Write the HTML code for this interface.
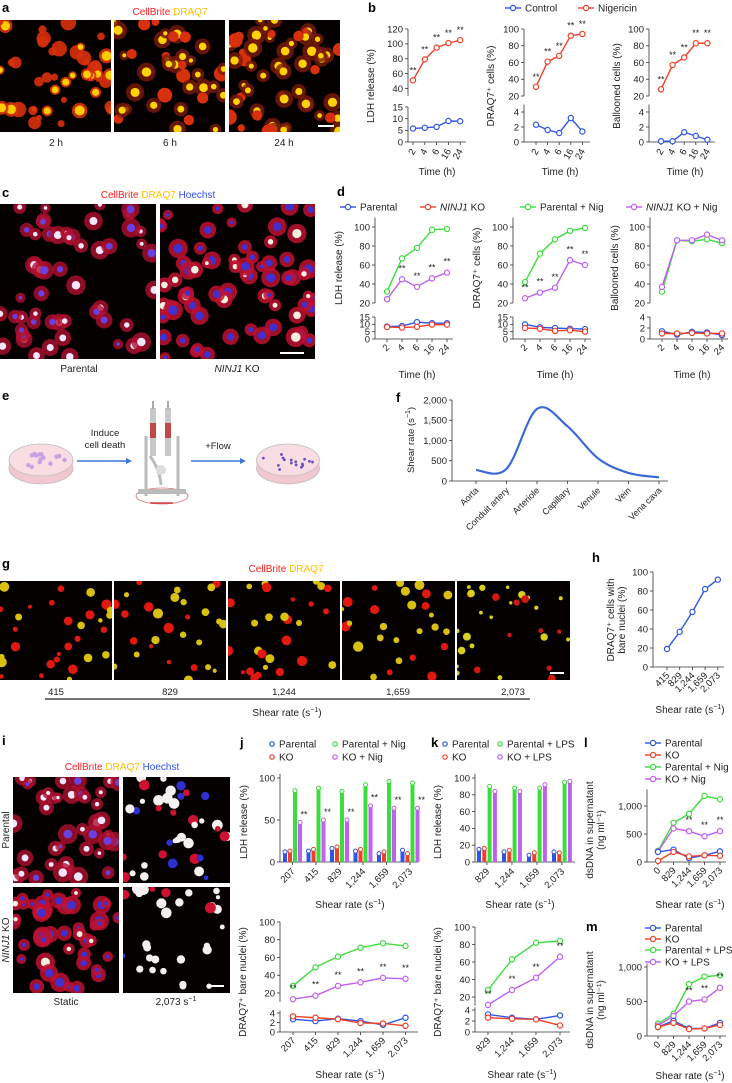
<!DOCTYPE html>
<html><head><meta charset="utf-8"><style>
html,body{margin:0;padding:0;background:#fff;}
svg{display:block;font-family:"Liberation Sans",Arial,sans-serif;}
</style></head><body>
<svg id="fig" width="732" height="1083" viewBox="0 0 732 1083" xmlns="http://www.w3.org/2000/svg"></svg>
<script>
// ---------------- DATA ----------------
const timeCats = ['2','4','6','16','24'];
const b1Nig = [51,79,95,101,105];
const b1Ctrl = [5.8,6.1,6.5,9.0,8.9];
const b2Nig = [31,61,68,92,94];
const b2Ctrl = [2.3,1.6,1.2,3.2,1.4];
const b3Nig = [28,57,66,83,83];
const b3Ctrl = [0.1,0.1,1.3,0.8,0.3];
const d1Par = [8.5,8.8,11.5,10.8,10.8];
const d1KO = [8.2,7.8,8.3,9.8,9.8];
const d1ParNig = [32,67,78,97,98];
const d1KONig = [24,45,37,46,52];
const d2Par = [10,8,7.5,7,6.8];
const d2KO = [7.5,7,5.5,6,5];
const d2ParNig = [42,72,87,96,99];
const d2KONig = [25,31,36,65,60];
const d3Par = [1.4,0.8,1.3,1.2,0.7];
const d3KO = [1.0,1.0,1.1,1.0,1.0];
const d3ParNig = [32,86,85,87,83];
const d3KONig = [37,86,86,92,86];
const fCats = ['Aorta','Conduit artery','Arteriole','Capillary','Venule','Vein','Vena cava'];
const fVals = [270,300,1780,1350,560,200,90];
const hCats = ['415','829','1,244','1,659','2,073'];
const hVals = [19,37,58,82,92];
const jCats = ['207','415','829','1,244','1,659','2,073'];
const jTopPar = [12,13,16,13,10,14];
const jTopKO = [13,15,18,15,12,10];
const jTopParNig = [85,88,84,92,96,94];
const jTopKONig = [47,50,50,67,64,64];
const kCats = ['829','1,244','1,659','2,073'];
const kTopPar = [15,12,8,12];
const kTopKO = [16,14,11,11];
const kTopParLPS = [90,88,88,95];
const kTopKOLPS = [84,84,92,96];
const jBotPar = [2.7,2.3,2.8,2.3,1.5,3.0];
const jBotKO = [3.3,3.0,2.7,1.9,1.8,1.3];
const jBotParNig = [28,49,61,71,76,73];
const jBotKONig = [13,17,28,32,37,36];
const kBotPar = [3.2,2.6,2.3,3.0];
const kBotKO = [2.6,2.4,2.3,1.2];
const kBotParLPS = [28,63,82,84];
const kBotKOLPS = [11,28,42,66];
const lmCats = ['0','829','1,244','1,659','2,073'];
const lPar = [180,220,70,120,190];
const lKO = [20,180,100,120,110];
const lParNig = [200,700,860,1180,1120];
const lKONig = [190,600,550,460,550];
const mPar = [130,220,110,110,190];
const mKO = [130,190,100,110,160];
const mParLPS = [180,320,750,860,880];
const mKOLPS = [150,290,500,530,700];

const BLUE='#2f55e8', RED='#f0402a', GREEN='#3ddc3d', PURPLE='#c060f0';
const NS='http://www.w3.org/2000/svg';
const svg=document.getElementById('fig');
function el(tag,attrs,parent,txt){const e=document.createElementNS(NS,tag);for(const k in attrs)e.setAttribute(k,attrs[k]);if(txt!==undefined)e.textContent=txt;(parent||svg).appendChild(e);return e;}
function txt(x,y,s,o,parent){o=o||{};const t=el('text',{x:x,y:y,'font-size':o.fs||9.5,fill:o.fill||'#222','text-anchor':o.anchor||'start','font-weight':o.fw||'normal'},parent,s);if(o.rot!==undefined)t.setAttribute('transform','rotate('+o.rot+' '+x+' '+y+')');if(o.italic)t.setAttribute('font-style','italic');return t;}
function label(x,y,s){const t=txt(x,y,s,{fs:13,fw:'bold',fill:'#000'});}

// ---------- microscopy ----------
let seed=1;
function rnd(){seed=(seed*16807)%2147483647;return seed/2147483647;}
let clipId=0;
function micro(x,y,w,h,type,n,s,name){
  seed=s;
  const g=el('g',{});
  
  
  clipId++;
  const cp=el('clipPath',{id:'cp'+clipId},g);el('rect',{x:x,y:y,width:w,height:h},cp);
  el('rect',{x:x,y:y,width:w,height:h,fill:'#050000'},g);
  const inner=el('g',{'clip-path':'url(#cp'+clipId+')'},g);
  for(let i=0;i<n;i++){
    const cx=x+rnd()*w, cy=y+rnd()*h, r=3+rnd()*5, p=rnd();
    if(type==='a'){
      el('circle',{cx:cx,cy:cy,r:r,fill:'#d8300c',opacity:0.9},inner);
      if(p<0.35)el('circle',{cx:cx,cy:cy,r:r*0.65,fill:'#ffcc00'},inner);
    }else if(type==='a2'){
      if(p<0.6){el('circle',{cx:cx,cy:cy,r:r+1.5,fill:'#7a1a08',opacity:0.8},inner);el('circle',{cx:cx,cy:cy,r:r*0.6,fill:'#ffd200'},inner);}
      else el('circle',{cx:cx,cy:cy,r:r,fill:'#d8300c'},inner);
    }else if(type==='c'){
      el('circle',{cx:cx,cy:cy,r:r+2,fill:'#b01030',opacity:0.8},inner);
      el('circle',{cx:cx,cy:cy,r:r*0.55,fill:p<0.5?'#f4e6ff':'#6a40e0'},inner);
    }else if(type==='c2'){
      el('circle',{cx:cx,cy:cy,r:r+2,fill:'#c01030',opacity:0.85},inner);
      el('circle',{cx:cx,cy:cy,r:r*0.6,fill:p<0.25?'#f4f0e0':'#4030d0'},inner);
    }else if(type==='g'){
      el('circle',{cx:cx,cy:cy,r:r*0.65,fill:p<0.55?'#e01810':'#d8c010'},inner);
    }else if(type==='g2'){
      el('circle',{cx:cx,cy:cy,r:r*0.5,fill:p<0.2?'#d01810':'#d8d020'},inner);
    }else if(type==='i2'){
      el('circle',{cx:cx,cy:cy,r:r*0.7,fill:p<0.6?'#f4f0f0':(p<0.8?'#d01030':'#3030d0')},inner);
    }
  }
  return g;
}

// ---------- panel a ----------
label(2,12,'a');
function stainTitle(cx,y,parts){const t=el('text',{x:cx,y:y,'font-size':10,'text-anchor':'middle'});parts.forEach(p=>{el('tspan',{fill:p[1]},t,p[0]);});}
stainTitle(170,15,[['CellBrite ','#ff2020'],['DRAQ7','#ffc000']]);
micro(0,20,111,112,'a',45,11,'image-2h');
micro(114,20,111,112,'a2',40,23,'image-6h');
micro(229,20,111,112,'a2',55,37,'image-24h');
el('rect',{x:318,y:125,width:16,height:2,fill:'#fff'});
[['2 h',56],['6 h',170],['24 h',284]].forEach(p=>{const t=txt(p[1],146,p[0],{fs:10,anchor:'middle'});});

// ---------- panel c ----------
label(2,197,'c');
stainTitle(158,198,[['CellBrite ','#ff2020'],['DRAQ7 ','#ffc000'],['Hoechst','#3050ff']]);
micro(0,204,156,155,'c',55,51,'image-parental');
micro(160,204,155,155,'c2',70,77,'image-ninj1-ko');
el('rect',{x:280,y:352,width:24,height:2,fill:'#fff'});
txt(79,372,'Parental',{fs:10,anchor:'middle'});
{const t=el('text',{x:237,y:372,'font-size':10,'text-anchor':'middle',fill:'#222'});el('tspan',{'font-style':'italic'},t,'NINJ1');el('tspan',{},t,' KO');}

// ---------- generic line chart ----------
function mkY(seg){return v=>seg.yLo+(v-seg.lo)*(seg.yHi-seg.yLo)/(seg.hi-seg.lo);}
function lineChart(o){
  const g=el('g',{});
  
  
  const ys=o.segs.map(mkY);
  o.segs.forEach((s,i)=>{
    const y=ys[i];
    const ax=el('line',{x1:o.ax,x2:o.ax,y1:y(s.axLo),y2:y(s.axHi),stroke:'#333','stroke-width':0.8},g);
    
    
    s.ticks.forEach(t=>{el('line',{x1:o.ax-3,x2:o.ax,y1:y(t),y2:y(t),stroke:'#333','stroke-width':0.8},g);
      const tl=txt(o.ax-5,y(t)+3.3,s.fmt?s.fmt(t):String(t),{anchor:'end',fs:o.tfs||9.5},g);
      
      });
  });
  const last=o.segs.length-1, yb=ys[last](o.segs[last].axLo);
  el('line',{x1:o.ax,x2:o.xEnd,y1:yb,y2:yb,stroke:'#333','stroke-width':0.8},g);
  o.xs.forEach((x,i)=>{el('line',{x1:x,x2:x,y1:yb,y2:yb+3,stroke:'#333','stroke-width':0.8},g);
    const tl=txt(x+3,yb+9,o.cats[i],{anchor:'end',fs:o.xfs||9.5,rot:o.rot||-45},g);
    
    });
  (o.series||[]).forEach(sr=>{
    const y=ys[sr.seg||0];
    const pts=sr.vals.map((v,i)=>[o.xs[i],y(v)]);
    const pl=el('polyline',{points:pts.map(p=>p.join(',')).join(' '),fill:'none',stroke:sr.color,'stroke-width':1.4},g);
    
    
    pts.forEach(p=>{const c=el('circle',{cx:p[0],cy:p[1],r:2.6,fill:'#fff',stroke:sr.color,'stroke-width':1.2},g);
      
      });
    (sr.stars||[]).forEach(i=>{const s=txt(pts[i][0]+(sr.starDx||0),pts[i][1]-(sr.starDy||6),'**',{anchor:'middle',fs:9},g);
      
      });
  });
  if(o.ytitle){o.ytitle.forEach((t,i)=>{const yt=txt(o.ytx+i*11,o.yty,t,{anchor:'middle',fs:10,rot:-90},g);
    
    });}
  if(o.xtitle){const xt=el('text',{x:o.xtx,y:o.xty,'font-size':10,'text-anchor':'middle',fill:'#222'},g);
    el('tspan',{},xt,o.xtitle);if(o.xsup){el('tspan',{'font-size':7,dy:-4},xt,o.xsup);el('tspan',{dy:4},xt,')');}
    
    }
  return {g:g,ys:ys};
}
function catX(x0,step,n){const a=[];for(let i=0;i<n;i++)a.push(x0+step*i);return a;}
function legendItem(x,y,color,text,italicPart){
  const g=el('g',{});
  
  
  el('line',{x1:x-8,x2:x+8,y1:y,y2:y,stroke:color,'stroke-width':1.4},g);
  el('circle',{cx:x,cy:y,r:2.6,fill:'#fff',stroke:color,'stroke-width':1.2},g);
  const t=el('text',{x:x+12,y:y+3.5,'font-size':10,fill:'#222'},g);
  if(italicPart){el('tspan',{'font-style':'italic'},t,italicPart);}
  el('tspan',{},t,text);
}
function dotLegend(x,y,color,text){
  const g=el('g',{});
  
  
  el('circle',{cx:x,cy:y,r:2.2,fill:'#fff',stroke:color,'stroke-width':1.2},g);
  txt(x+7,y+3.5,text,{fs:10},g);
}

// ---------- panel b ----------
label(368,12,'b');
legendItem(513,8,BLUE,'Control');
legendItem(586,8,RED,'Nigericin');
lineChart({name:'chart-b-ldh',ax:408,xs:catX(413,11.8,5),cats:timeCats,xEnd:466,rot:-60,
  segs:[{lo:40,hi:120,yLo:88.5,yHi:29,axLo:30,axHi:120,ticks:[40,60,80,100,120]},
        {lo:0,hi:15,yLo:142,yHi:107,axLo:0,axHi:15,ticks:[0,5,10,15]}],
  series:[{name:'nigericin',vals:b1Nig,color:RED,seg:0,stars:[0,1,2,3,4],starDy:7},
          {name:'control',vals:b1Ctrl,color:BLUE,seg:1}],
  ytitle:['LDH release (%)'],ytx:374,yty:86,xtitle:'Time (h)',xtx:437,xty:175});
lineChart({name:'chart-b-draq7',ax:524,xs:catX(536,11.6,5),cats:timeCats,xEnd:590,rot:-60,
  segs:[{lo:20,hi:100,yLo:96,yHi:29,axLo:20,axHi:100,ticks:[20,40,60,80,100]},
        {lo:0,hi:4,yLo:142,yHi:112,axLo:0,axHi:5,ticks:[0,2,4]}],
  series:[{name:'nigericin',vals:b2Nig,color:RED,seg:0,stars:[0,1,2,3,4],starDy:7},
          {name:'control',vals:b2Ctrl,color:BLUE,seg:1}],
  ytitle:['DRAQ7\u207A cells (%)'],ytx:494,yty:86,xtitle:'Time (h)',xtx:560,xty:175});
lineChart({name:'chart-b-ballooned',ax:649,xs:catX(661,11.6,5),cats:timeCats,xEnd:715,rot:-60,
  segs:[{lo:20,hi:100,yLo:96,yHi:29,axLo:20,axHi:100,ticks:[20,40,60,80,100]},
        {lo:0,hi:4,yLo:142,yHi:112,axLo:0,axHi:5,ticks:[0,2,4]}],
  series:[{name:'nigericin',vals:b3Nig,color:RED,seg:0,stars:[0,1,2,3,4],starDy:7},
          {name:'control',vals:b3Ctrl,color:BLUE,seg:1}],
  ytitle:['Ballooned cells (%)'],ytx:620,yty:86,xtitle:'Time (h)',xtx:685,xty:175});

// ---------- panel d ----------
label(337,196,'d');
legendItem(348,207,BLUE,'Parental');
legendItem(428,207,RED,' KO','NINJ1');
legendItem(528,207,GREEN,'Parental + Nig');
legendItem(634,207,PURPLE,' KO + Nig','NINJ1');
const dSegs=(lowHi,lowTicks)=>[{lo:20,hi:100,yLo:303,yHi:227,axLo:20,axHi:110,ticks:[20,40,60,80,100]},
  {lo:0,hi:lowHi,yLo:339,yHi:317,axLo:0,axHi:lowHi,ticks:lowTicks}];
lineChart({name:'chart-d-ldh',ax:375,xs:catX(387,15,5),cats:timeCats,xEnd:453,segs:dSegs(15,[0,5,10,15]),tfs:9.5,
  series:[{name:'parental-nig',vals:d1ParNig,color:GREEN,seg:0},
          {name:'ko-nig',vals:d1KONig,color:PURPLE,seg:0,stars:[1,2,3,4],starDy:8},
          {name:'parental',vals:d1Par,color:BLUE,seg:1},{name:'ko',vals:d1KO,color:RED,seg:1}],
  ytitle:['LDH release (%)'],ytx:342,yty:268,xtitle:'Time (h)',xtx:417,xty:378});
lineChart({name:'chart-d-draq7',ax:513,xs:catX(525,15,5),cats:timeCats,xEnd:591,segs:dSegs(15,[0,5,10,15]),
  series:[{name:'parental-nig',vals:d2ParNig,color:GREEN,seg:0},
          {name:'ko-nig',vals:d2KONig,color:PURPLE,seg:0,stars:[0,1,2,3,4],starDy:8},
          {name:'parental',vals:d2Par,color:BLUE,seg:1},{name:'ko',vals:d2KO,color:RED,seg:1}],
  ytitle:['DRAQ7\u207A cells (%)'],ytx:480,yty:268,xtitle:'Time (h)',xtx:555,xty:378});
lineChart({name:'chart-d-ballooned',ax:650,xs:catX(662,15,5),cats:timeCats,xEnd:728,segs:dSegs(4,[0,2,4]),
  series:[{name:'parental-nig',vals:d3ParNig,color:GREEN,seg:0},
          {name:'ko-nig',vals:d3KONig,color:PURPLE,seg:0},
          {name:'parental',vals:d3Par,color:BLUE,seg:1},{name:'ko',vals:d3KO,color:RED,seg:1}],
  ytitle:['Ballooned cells (%)'],ytx:618,yty:268,xtitle:'Time (h)',xtx:692,xty:378});

// ---------- panel e ----------
label(2,400,'e');
function dish(x,y,w,dots,s){const g=el('g',{});
  
  
  el('ellipse',{cx:x,cy:y+8,rx:w/2,ry:16,fill:'#f2c8d0',stroke:'#bbb','stroke-width':0.8},g);
  el('rect',{x:x-w/2,y:y,width:w,height:8,fill:'#f2c8d0'},g);
  el('ellipse',{cx:x,cy:y,rx:w/2,ry:16,fill:'#f8dde3',stroke:'#bbb','stroke-width':0.8},g);
  seed=s;for(let i=0;i<dots;i++){const a=rnd()*6.28,r=rnd()*0.8;el('circle',{cx:x+Math.cos(a)*r*w/2,cy:y+Math.sin(a)*r*13,r:s>50?1.4:2.2,fill:s>50?'#6a50c0':'#c9a0e0'},g);}
}
dish(41,460,64,14,7);
dish(288,460,63,16,77);
function arrow(x1,x2,y){const g=el('g',{});
  el('line',{x1:x1,x2:x2-5,y1:y,y2:y,stroke:'#3a78d8','stroke-width':1.5},g);
  el('polygon',{points:(x2-6)+','+(y-3)+' '+x2+','+y+' '+(x2-6)+','+(y+3),fill:'#3a78d8'},g);}
arrow(77,132,461);arrow(191,246,461);
txt(105,436,'Induce',{anchor:'middle',fs:9.5});txt(105,448,'cell death',{anchor:'middle',fs:9.5});
txt(218,449,'+Flow',{anchor:'middle',fs:9.5});
{const g=el('g',{});
 el('ellipse',{cx:162,cy:496,rx:26,ry:8,fill:'none',stroke:'#e07070','stroke-width':0.8},g);
 el('rect',{x:150,y:408,width:6,height:48,fill:'#c8c8c8'},g);el('rect',{x:165,y:408,width:6,height:48,fill:'#c8c8c8'},g);
 el('rect',{x:150,y:423,width:6,height:15,fill:'#c04848'},g);el('rect',{x:165,y:423,width:6,height:15,fill:'#c04848'},g);
 el('rect',{x:152,y:401,width:2,height:8,fill:'#aaa'},g);el('rect',{x:167,y:401,width:2,height:8,fill:'#aaa'},g);
 el('path',{d:'M146 436 L146 496 M178 436 L178 496 M150 456 Q160 470 161 485',stroke:'#bbb','stroke-width':3,fill:'none'},g);
 el('circle',{cx:161,cy:470,r:5,fill:'#ddd'},g);
 el('rect',{x:138,y:489,width:48,height:5,fill:'#bbb'},g);
 el('line',{x1:150,x2:173,y1:503,y2:503,stroke:'#d04040','stroke-width':1.5},g);}

// ---------- panel f ----------
label(396,402,'f');
{
  const ax=452, y0=481, y2000=400, xs=catX(476,30.5,7);
  const Y=v=>y0+(v)*(y2000-y0)/2000;
  const g=el('g',{});
  el('line',{x1:ax,x2:ax,y1:y0,y2:y2000,stroke:'#333','stroke-width':0.8},g);
  el('line',{x1:ax,x2:668,y1:y0,y2:y0,stroke:'#333','stroke-width':0.8},g);
  [0,500,1000,1500,2000].forEach(t=>{el('line',{x1:ax-3,x2:ax,y1:Y(t),y2:Y(t),stroke:'#333','stroke-width':0.8},g);
    txt(ax-5,Y(t)+3.3,t.toLocaleString('en-US'),{anchor:'end',fs:9.5},g);});
  xs.forEach((x,i)=>{el('line',{x1:x,x2:x,y1:y0,y2:y0+3,stroke:'#333','stroke-width':0.8},g);
    txt(x+3,y0+10,fCats[i],{anchor:'end',fs:9,rot:-45},g);});
  const pts=fVals.map((v,i)=>[xs[i],Y(v)]);
  let d='M'+pts[0].join(',');
  for(let i=0;i<pts.length-1;i++){const p0=pts[Math.max(0,i-1)],p1=pts[i],p2=pts[i+1],p3=pts[Math.min(pts.length-1,i+2)];
    const c1=[p1[0]+(p2[0]-p0[0])/6,p1[1]+(p2[1]-p0[1])/6],c2=[p2[0]-(p3[0]-p1[0])/6,p2[1]-(p3[1]-p1[1])/6];
    d+=' C'+c1.join(',')+' '+c2.join(',')+' '+p2.join(',');}
  const c=el('path',{d:d,fill:'none',stroke:'#3a6ad8','stroke-width':2.2},g);
  
  
  const yt=el('text',{x:414,y:440,'font-size':9.5,'text-anchor':'middle',fill:'#222',transform:'rotate(-90 414 440)'},g);
  el('tspan',{},yt,'Shear rate (s');el('tspan',{'font-size':7,dy:-4},yt,'\u22121');el('tspan',{dy:4},yt,')');
}

// ---------- panel g ----------
label(2,568,'g');
stainTitle(286,572,[['CellBrite ','#ff2020'],['DRAQ7','#ffc000']]);
micro(0,581,112,99,'g',30,101,'image-shear-415');
micro(114,581,112,99,'g',28,113,'image-shear-829');
micro(228,581,112,99,'g',28,127,'image-shear-1244');
micro(342,581,113,99,'g',28,139,'image-shear-1659');
micro(457,581,113,99,'g2',30,151,'image-shear-2073');
el('rect',{x:550,y:672,width:14,height:2,fill:'#fff'});
[['415',56],['829',170],['1,244',284],['1,659',398],['2,073',513]].forEach(p=>txt(p[1],695,p[0],{anchor:'middle',fs:9.5}));
el('line',{x1:45,x2:530,y1:699,y2:699,stroke:'#222','stroke-width':1.2});
{const t=el('text',{x:287,y:716,'font-size':10,'text-anchor':'middle',fill:'#222'});el('tspan',{},t,'Shear rate (s');el('tspan',{'font-size':7,dy:-4},t,'\u22121');el('tspan',{dy:4},t,')');}

// ---------- panel h ----------
label(592,562,'h');
lineChart({name:'chart-h-bare-nuclei',ax:653,xs:catX(667,12.7,5),cats:hCats,xEnd:724,
  segs:[{lo:0,hi:100,yLo:667,yHi:572,axLo:0,axHi:100,ticks:[0,20,40,60,80,100]}],
  series:[{name:'bare-nuclei',vals:hVals,color:BLUE,seg:0}],
  ytitle:['DRAQ7\u207A cells with','bare nuclei (%)'],ytx:614,yty:620,xtitle:'Shear rate (s',xsup:'\u22121',xtx:690,xty:713});

// ---------- panel i ----------
label(2,745,'i');
stainTitle(122,770,[['CellBrite ','#ff2020'],['DRAQ7 ','#ffc000'],['Hoechst','#3050ff']]);
micro(13,777,106,106,'c',40,201,'image-parental-static');
micro(123,777,107,106,'i2',40,211,'image-parental-2073');
micro(13,887,106,106,'c2',45,223,'image-ko-static');
micro(123,887,107,106,'i2',30,233,'image-ko-2073');
el('rect',{x:208,y:985,width:16,height:2,fill:'#fff'});
txt(9,830,'Parental',{anchor:'middle',fs:10,rot:-90});
{const t=el('text',{x:9,y:940,'font-size':10,'text-anchor':'middle',fill:'#222',transform:'rotate(-90 9 940)'});el('tspan',{'font-style':'italic'},t,'NINJ1');el('tspan',{},t,' KO');}
txt(66,1005,'Static',{anchor:'middle',fs:10});
{const t=el('text',{x:176,y:1005,'font-size':10,'text-anchor':'middle',fill:'#222'});el('tspan',{},t,'2,073 s');el('tspan',{'font-size':7,dy:-4},t,'\u22121');}

// ---------- bar charts j/k ----------
function barChart(o){
  const g=el('g',{});
  const Y=v=>o.y0+v*(o.yTop-o.y0)/o.vTop;
  el('line',{x1:o.ax,x2:o.ax,y1:o.y0,y2:Y(o.axMax),stroke:'#333','stroke-width':0.8},g);
  el('line',{x1:o.ax,x2:o.xEnd,y1:o.y0,y2:o.y0,stroke:'#333','stroke-width':0.8},g);
  o.ticks.forEach(t=>{el('line',{x1:o.ax-3,x2:o.ax,y1:Y(t),y2:Y(t),stroke:'#333','stroke-width':0.8},g);txt(o.ax-5,Y(t)+3.3,String(t),{anchor:'end',fs:9.5},g);});
  o.cats.forEach((c,gi)=>{
    const gx=o.gx0+gi*o.gstep;
    o.series.forEach((sr,si)=>{
      const bx=gx+si*o.bstep, v=sr.vals[gi];
      const b=el('rect',{x:bx,y:Y(v),width:o.bw,height:o.y0-Y(v),fill:sr.color},g);
      
      
      el('circle',{cx:bx+o.bw/2,cy:Y(v),r:2,fill:'#fff',stroke:sr.color,'stroke-width':1},g);
      if(sr.stars&&sr.stars.includes(gi))txt(bx+o.bw/2+4,Y(v)-5,'**',{anchor:'middle',fs:9},g);
    });
    const cx=gx+o.bstep*1.5+o.bw/2;
    el('line',{x1:cx,x2:cx,y1:o.y0,y2:o.y0+3,stroke:'#333','stroke-width':0.8},g);
    txt(cx+3,o.y0+10,c,{anchor:'end',fs:9.5,rot:-45},g);
  });
  txt(o.ytx,o.yty,o.ytitle,{anchor:'middle',fs:10,rot:-90},g);
  const xt=el('text',{x:o.xtx,y:o.xty,'font-size':10,'text-anchor':'middle',fill:'#222'},g);
  el('tspan',{},xt,'Shear rate (s');el('tspan',{'font-size':7,dy:-4},xt,'\u22121');el('tspan',{dy:4},xt,')');
}
label(240,747,'j');
dotLegend(272,744,BLUE,'Parental');dotLegend(335,744,GREEN,'Parental + Nig');
dotLegend(272,757,RED,'KO');dotLegend(335,757,PURPLE,'KO + Nig');
barChart({name:'chart-j-ldh',ax:280,y0:862,yTop:778,vTop:100,axMax:105,ticks:[0,50,100],xEnd:418,
  cats:jCats,gx0:283,gstep:23.5,bstep:5,bw:4,
  series:[{name:'parental',vals:jTopPar,color:BLUE},{name:'ko',vals:jTopKO,color:RED},
          {name:'parental-nig',vals:jTopParNig,color:GREEN},{name:'ko-nig',vals:jTopKONig,color:PURPLE,stars:[0,1,2,3,4,5]}],
  ytitle:'LDH release (%)',ytx:247,yty:822,xtx:350,xty:908});
label(431,747,'k');
dotLegend(445,744,BLUE,'Parental');dotLegend(500,744,GREEN,'Parental + LPS');
dotLegend(445,757,RED,'KO');dotLegend(500,757,PURPLE,'KO + LPS');
barChart({name:'chart-k-ldh',ax:475,y0:862,yTop:778,vTop:100,axMax:105,ticks:[0,20,40,60,80,100],xEnd:575,
  cats:kCats,gx0:477,gstep:25,bstep:5.3,bw:4,
  series:[{name:'parental',vals:kTopPar,color:BLUE},{name:'ko',vals:kTopKO,color:RED},
          {name:'parental-lps',vals:kTopParLPS,color:GREEN},{name:'ko-lps',vals:kTopKOLPS,color:PURPLE}],
  ytitle:'LDH release (%)',ytx:441,yty:822,xtx:520,xty:908});

lineChart({name:'chart-j-bare-nuclei',ax:280,xs:catX(293,22.5,6),cats:jCats,xEnd:418,
  segs:[{lo:20,hi:100,yLo:993,yHi:922,axLo:10,axHi:100,ticks:[20,40,60,80,100]},
        {lo:0,hi:4,yLo:1032,yHi:1013,axLo:0,axHi:4.5,ticks:[0,2,4]}],
  series:[{name:'parental-nig',vals:jBotParNig,color:GREEN,seg:0},
          {name:'ko-nig',vals:jBotKONig,color:PURPLE,seg:0,stars:[0,1,2,3,4,5],starDy:8},
          {name:'parental',vals:jBotPar,color:BLUE,seg:1},{name:'ko',vals:jBotKO,color:RED,seg:1}],
  ytitle:['DRAQ7\u207A bare nuclei (%)'],ytx:246,yty:982,xtitle:'Shear rate (s',xsup:'\u22121',xtx:350,xty:1078});
lineChart({name:'chart-k-bare-nuclei',ax:475,xs:catX(488,24,4),cats:kCats,xEnd:570,
  segs:[{lo:20,hi:100,yLo:997,yHi:927,axLo:10,axHi:100,ticks:[20,40,60,80,100]},
        {lo:0,hi:4,yLo:1032,yHi:1010,axLo:0,axHi:4.5,ticks:[0,2,4]}],
  series:[{name:'parental-lps',vals:kBotParLPS,color:GREEN,seg:0},
          {name:'ko-lps',vals:kBotKOLPS,color:PURPLE,seg:0,stars:[0,1,2,3],starDy:8},
          {name:'parental',vals:kBotPar,color:BLUE,seg:1},{name:'ko',vals:kBotKO,color:RED,seg:1}],
  ytitle:['DRAQ7\u207A bare nuclei (%)'],ytx:441,yty:982,xtitle:'Shear rate (s',xsup:'\u22121',xtx:522,xty:1078});

// ---------- l / m ----------
const fmtK=t=>t.toLocaleString('en-US');
label(584,747,'l');
legendItem(653,743,BLUE,'Parental');legendItem(653,755,RED,'KO');
legendItem(653,767,GREEN,'Parental + Nig');legendItem(653,779,PURPLE,'KO + Nig');
lineChart({name:'chart-l-dsdna',ax:647,xs:catX(658,15.5,5),cats:lmCats,xEnd:726,
  segs:[{lo:0,hi:1000,yLo:862,yHi:806,axLo:0,axHi:1300,ticks:[0,500,1000],fmt:fmtK}],
  series:[{name:'parental-nig',vals:lParNig,color:GREEN,seg:0},
          {name:'ko-nig',vals:lKONig,color:PURPLE,seg:0,stars:[2,3,4],starDy:8},
          {name:'parental',vals:lPar,color:BLUE,seg:0},{name:'ko',vals:lKO,color:RED,seg:0}],
  ytitle:['dsDNA in supernatant','(ng ml\u207B\u00B9)'],ytx:593,yty:830,xtitle:'Shear rate (s',xsup:'\u22121',xtx:690,xty:908});
label(586,931,'m');
legendItem(653,928,BLUE,'Parental');legendItem(653,939,RED,'KO');
legendItem(653,950,GREEN,'Parental + LPS');legendItem(653,962,PURPLE,'KO + LPS');
lineChart({name:'chart-m-dsdna',ax:647,xs:catX(658,15.5,5),cats:lmCats,xEnd:726,
  segs:[{lo:0,hi:1000,yLo:1036,yHi:967,axLo:0,axHi:1050,ticks:[0,500,1000],fmt:fmtK}],
  series:[{name:'parental-lps',vals:mParLPS,color:GREEN,seg:0},
          {name:'ko-lps',vals:mKOLPS,color:PURPLE,seg:0,stars:[2,3,4],starDy:8},
          {name:'parental',vals:mPar,color:BLUE,seg:0},{name:'ko',vals:mKO,color:RED,seg:0}],
  ytitle:['dsDNA in supernatant','(ng ml\u207B\u00B9)'],ytx:593,yty:1000,xtitle:'Shear rate (s',xsup:'\u22121',xtx:690,xty:1079});
</script>
</body></html>
